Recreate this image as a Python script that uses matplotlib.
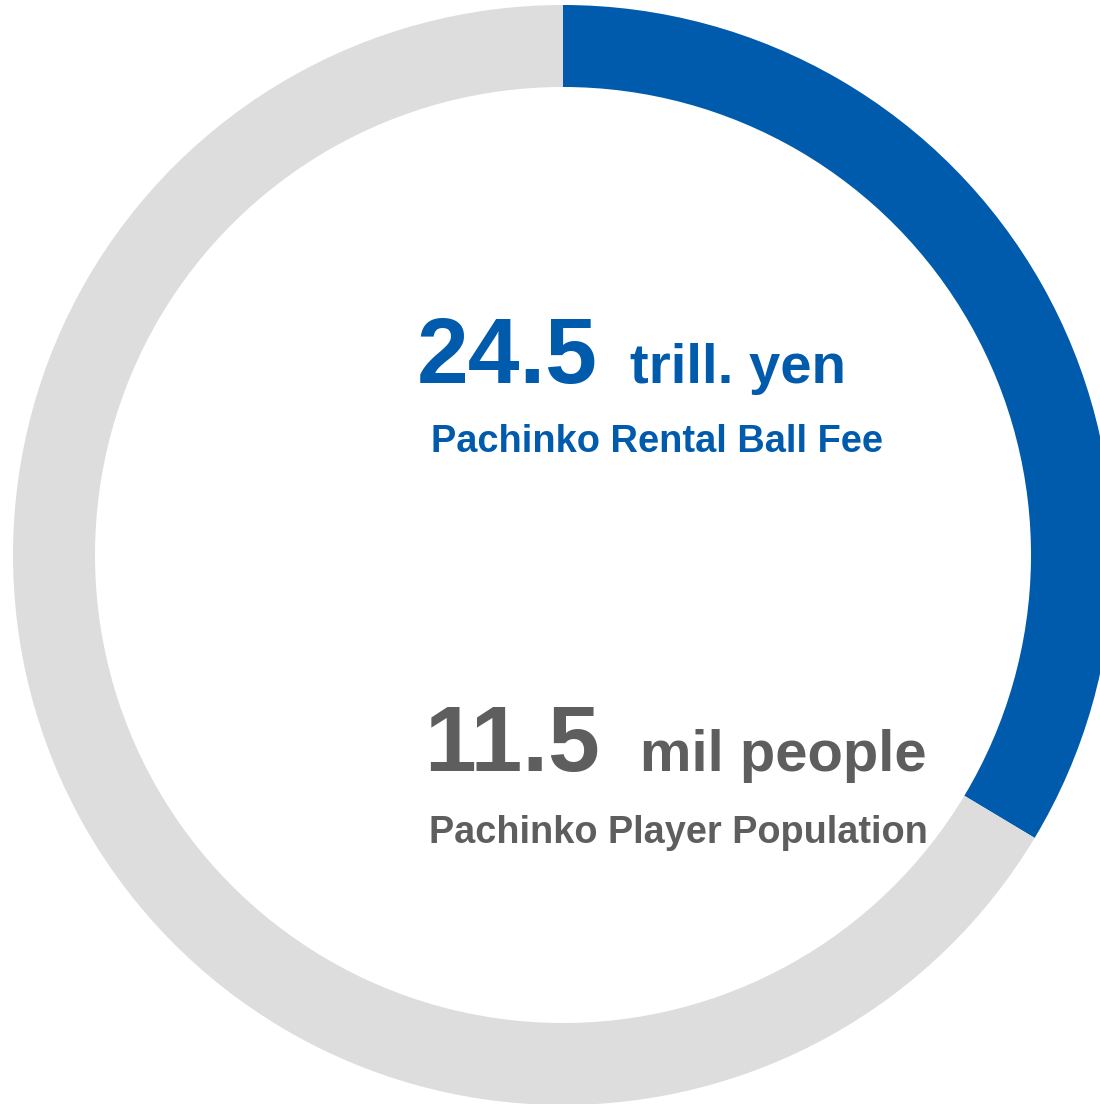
import matplotlib.pyplot as plt

# share of the ring drawn in blue (clockwise from 12 o'clock)
shares = [33.6, 66.4]
ring_colors = ['#005BAC', '#DDDDDD']

values = ['24.5', '11.5']
units = ['trill. yen', 'mil people']
labels = ['Pachinko Rental Ball Fee', 'Pachinko Player Population']
text_colors = ['#005BAC', '#5E5E5E']

W, H = 1100, 1104
fig = plt.figure(figsize=(W / 100, H / 100), dpi=100)
ax = fig.add_axes([0, 0, 1, 1])

ax.pie(shares, colors=ring_colors, startangle=90, counterclock=False,
       radius=550, center=(563, H - 555),
       wedgeprops=dict(width=82, edgecolor='none', linewidth=0))
ax.set_xlim(0, W)
ax.set_ylim(0, H)
ax.set_aspect('auto')
ax.axis('off')

font = ['Liberation Sans', 'DejaVu Sans']

# big number + unit, then caption
ax.text(417, H - 383, values[0], fontsize=67, fontweight='bold', color=text_colors[0], family=font)
ax.text(630, H - 383, units[0], fontsize=40.5, fontweight='bold', color=text_colors[0], family=font)
ax.text(431, H - 452, labels[0], fontsize=27.4, fontweight='bold', color=text_colors[0], family=font)

ax.text(424, H - 771, values[1], fontsize=67, fontweight='bold', color=text_colors[1], family=font)
ax.text(640, H - 771, units[1], fontsize=41.8, fontweight='bold', color=text_colors[1], family=font)
ax.text(429, H - 843, labels[1], fontsize=27.3, fontweight='bold', color=text_colors[1], family=font)

fig.savefig('out.png', dpi=100)
